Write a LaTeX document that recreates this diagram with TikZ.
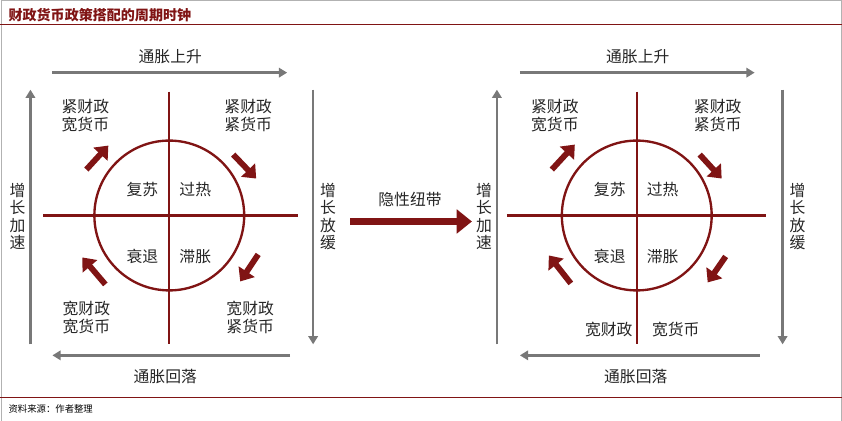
\documentclass[tikz,border=0pt]{standalone}
\usepackage{fontspec}
\newfontfamily\cjk{Noto Sans CJK SC}
\usetikzlibrary{arrows.meta}
\definecolor{darkred}{RGB}{128,20,20}
\definecolor{axisgray}{RGB}{120,120,120}
\begin{document}
\begin{tikzpicture}[x=0.03cm,y=-0.03cm,
	lbl/.style={font=\cjk\fontsize{13.5}{15}\selectfont,text=black!85,align=center},
	axis/.style={axisgray,line width=2pt,-{Triangle[length=7pt,width=8pt]}},
	cross/.style={darkred,line width=2pt},
	turn/.style={darkred,line width=5pt,-{Triangle[length=10pt,width=16pt]}}]

	% frame, title and footer
	\draw[gray!60] (0.5,0.5) rectangle (841.5,421.5);
	\node[anchor=west,font=\cjk\bfseries\fontsize{12}{14}\selectfont,text=darkred] (title) at (4,15) {财政货币政策搭配的周期时钟};
	\draw[darkred,line width=0.8pt] (0,25) -- (842,25);
	\draw[darkred,line width=0.8pt] (0,398) -- (842,398);
	\node[anchor=west,font=\cjk\itshape\fontsize{8}{10}\selectfont] (src) at (4,410) {资料来源：作者整理};

	% left clock
	\draw[cross] (169,216) circle (75);
	\draw[cross] (43,216) -- (298,216);
	\draw[cross] (169,92) -- (169,345);
	\coordinate (ltl) at (52,73); \coordinate (ltr) at (287,73);
	\coordinate (lbr) at (290,356); \coordinate (lbl) at (52,356);
	\coordinate (lld) at (30,345); \coordinate (llu) at (30,90);
	\coordinate (lru) at (313,90); \coordinate (lrd) at (313,345);
	\draw[axis] (ltl) -- (ltr);
	\draw[axis] (lbr) -- (lbl);
	\draw[axis] (lld) -- (llu);
	\draw[axis] (lru) -- (lrd);
	\node[lbl] (lup) at (170,57) {通胀上升};
	\node[lbl] (ldown) at (165,377) {通胀回落};
	\node[lbl] (lfast) at (17,217) {增\\长\\加\\速};
	\node[lbl] (lslow) at (328,217) {增\\长\\放\\缓};
	\node[lbl] (lq1) at (142,190) {复苏};
	\node[lbl] (lq2) at (195,190) {过热};
	\node[lbl] (lq3) at (142,257) {衰退};
	\node[lbl] (lq4) at (195,257) {滞胀};
	\node[lbl] (lc1) at (85,116) {紧财政\\宽货币};
	\node[lbl] (lc2) at (248,116) {紧财政\\紧货币};
	\node[lbl] (lc3) at (250,318) {宽财政\\紧货币};
	\node[lbl] (lc4) at (86,318) {宽财政\\宽货币};
	\draw[turn] (86,170) -- (108,146);
	\draw[turn] (233,155) -- (256,179);
	\draw[turn] (258,255) -- (240,282);
	\draw[turn] (105,285) -- (82,258);

	% link
	\node[lbl] (link) at (410,200) {隐性纽带};
	\draw[darkred,line width=6pt,-{Triangle[length=13pt,width=20pt]}] (350,222) -- (472,222);

	% right clock
	\draw[cross] (637,216) circle (75);
	\draw[cross] (507,216) -- (766,216);
	\draw[cross] (637,92) -- (637,345);
	\coordinate (rtl) at (520,73); \coordinate (rtr) at (755,73);
	\coordinate (rbr) at (760,356); \coordinate (rbl) at (520,356);
	\coordinate (rld) at (497,345); \coordinate (rlu) at (497,90);
	\coordinate (rru) at (783,90); \coordinate (rrd) at (783,345);
	\draw[axis] (rtl) -- (rtr);
	\draw[axis] (rbr) -- (rbl);
	\draw[axis] (rld) -- (rlu);
	\draw[axis] (rru) -- (rrd);
	\node[lbl] (rup) at (638,57) {通胀上升};
	\node[lbl] (rdown) at (636,377) {通胀回落};
	\node[lbl] (rfast) at (484,217) {增\\长\\加\\速};
	\node[lbl] (rslow) at (798,217) {增\\长\\放\\缓};
	\node[lbl] (rq1) at (610,190) {复苏};
	\node[lbl] (rq2) at (663,190) {过热};
	\node[lbl] (rq3) at (610,257) {衰退};
	\node[lbl] (rq4) at (663,257) {滞胀};
	\node[lbl] (rc1) at (555,116) {紧财政\\宽货币};
	\node[lbl] (rc2) at (718,116) {紧财政\\紧货币};
	\node[lbl] (rc3) at (609,330) {宽财政};
	\node[lbl] (rc4) at (676,330) {宽货币};
	\draw[turn] (552,170) -- (575,145);
	\draw[turn] (700,155) -- (722,179);
	\draw[turn] (726,257) -- (708,283);
	\draw[turn] (571,284) -- (549,256);
\end{tikzpicture}
\end{document}
